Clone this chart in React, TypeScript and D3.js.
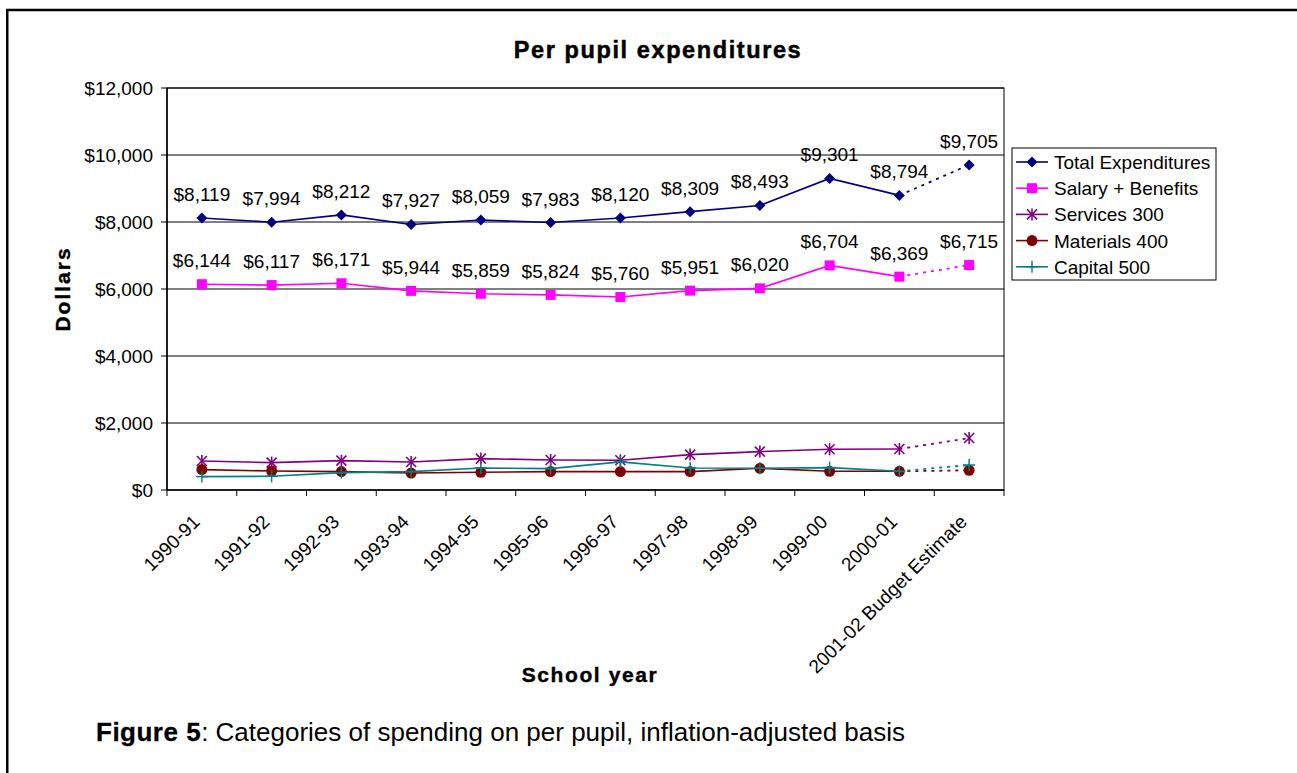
import React from "react";
import * as d3 from "d3";

const categories = ["1990-91","1991-92","1992-93","1993-94","1994-95","1995-96","1996-97","1997-98","1998-99","1999-00","2000-01","2001-02 Budget Estimate"];
const totalExpenditures = [8119,7994,8212,7927,8059,7983,8120,8309,8493,9301,8794,9705];
const salaryBenefits = [6144,6117,6171,5944,5859,5824,5760,5951,6020,6704,6369,6715];
const services300 = [866,818,877,836,937,896,887,1057,1146,1215,1224,1552];
const materials400 = [609,567,549,507,528,549,549,549,648,558,558,588];
const capital500 = [400,409,519,549,657,639,840,657,648,668,558,746];
const yTicks = [0,2000,4000,6000,8000,10000,12000];

const FONT = "'Liberation Sans', Arial, sans-serif";

type Series = { name: string; values: number[]; color: string; marker: string; labels: boolean };
const series: Series[] = [
  { name: "Total Expenditures", values: totalExpenditures, color: "#000080", marker: "diamond", labels: true },
  { name: "Salary + Benefits", values: salaryBenefits, color: "#FF00FF", marker: "square", labels: true },
  { name: "Services 300", values: services300, color: "#800080", marker: "star", labels: false },
  { name: "Materials 400", values: materials400, color: "#800000", marker: "circle", labels: false },
  { name: "Capital 500", values: capital500, color: "#008080", marker: "plus", labels: false },
];

function Marker({ type, x, y, color }: { type: string; x: number; y: number; color: string }) {
  if (type === "diamond") {
    const s = 5.5;
    return <path d={`M${x},${y - s}L${x + s},${y}L${x},${y + s}L${x - s},${y}Z`} fill={color} />;
  }
  if (type === "square") {
    return <rect x={x - 5} y={y - 5} width={10} height={10} fill={color} />;
  }
  if (type === "circle") {
    return <circle cx={x} cy={y} r={5.5} fill={color} />;
  }
  if (type === "star") {
    const s = 5;
    return (
      <g stroke={color} strokeWidth={1.6}>
        <line x1={x - s} y1={y - s} x2={x + s} y2={y + s} />
        <line x1={x - s} y1={y + s} x2={x + s} y2={y - s} />
        <line x1={x} y1={y - s - 1} x2={x} y2={y + s + 1} />
      </g>
    );
  }
  const s = 6;
  return (
    <g stroke={color} strokeWidth={1.5}>
      <line x1={x - s} y1={y} x2={x + s} y2={y} />
      <line x1={x} y1={y - s} x2={x} y2={y + s} />
    </g>
  );
}

export default function App() {
  const left = 167, right = 1004, top = 88, bottom = 490;
  const x = d3.scaleBand<string>().domain(categories).range([left, right]).padding(0);
  const y = d3.scaleLinear().domain([0, 12000]).range([bottom, top]);
  const cx = (c: string) => (x(c) as number) + x.bandwidth() / 2;
  const fmt = d3.format("$,.0f");
  const line = d3.line<[number, number]>().x(d => d[0]).y(d => d[1]);
  const n = categories.length;

  return (
    <svg width={1297} height={773} style={{ position: "absolute", left: 0, top: 0, background: "#fff" }} fontFamily={FONT}>
      <rect x={0} y={0} width={1297} height={773} fill="#fff" />
      <rect x={7.25} y={10} width={1400} height={900} fill="none" stroke="#000" strokeWidth={2.5} />

      <text x={658} y={58} textAnchor="middle" fontSize={23.5} fontWeight="bold" letterSpacing={1.6} stroke="#000" strokeWidth={0.5}>Per pupil expenditures</text>

      {yTicks.filter(t => t > 0).map(t => (
        <line key={t} x1={left} x2={right} y1={y(t)} y2={y(t)} stroke="#000" strokeWidth={1} />
      ))}
      <rect x={left} y={top} width={right - left} height={bottom - top} fill="none" stroke="#000" strokeWidth={1} />
      <line x1={left} x2={left} y1={top} y2={bottom} stroke="#000" strokeWidth={1.5} />
      <line x1={left} x2={right} y1={bottom} y2={bottom} stroke="#000" strokeWidth={1.5} />

      {yTicks.map(t => (
        <g key={t}>
          <line x1={left - 6} x2={left} y1={y(t)} y2={y(t)} stroke="#000" />
          <text x={left - 14} y={y(t) + 7} textAnchor="end" fontSize={19}>{fmt(t)}</text>
        </g>
      ))}

      {d3.range(n + 1).map(i => {
        const xx = i < n ? (x(categories[i]) as number) : right;
        return <line key={i} x1={xx} x2={xx} y1={bottom} y2={bottom + 6} stroke="#000" />;
      })}
      {categories.map(c => (
        <text key={c} transform={`translate(${cx(c) - 1},${bottom + 33}) rotate(-45)`} textAnchor="end" fontSize={19}>{c}</text>
      ))}

      <text transform={`translate(70,289) rotate(-90)`} textAnchor="middle" fontSize={21} fontWeight="bold" letterSpacing={2} stroke="#000" strokeWidth={0.4}>Dollars</text>
      <text x={590} y={682} textAnchor="middle" fontSize={21} fontWeight="bold" letterSpacing={1.6} stroke="#000" strokeWidth={0.4}>School year</text>

      {series.map(s => {
        const pts: [number, number][] = s.values.map((v, i) => [cx(categories[i]), y(v)]);
        return (
          <g key={s.name}>
            <path d={line(pts.slice(0, n - 1)) as string} fill="none" stroke={s.color} strokeWidth={1.6} />
            <path d={line(pts.slice(n - 2)) as string} fill="none" stroke={s.color} strokeWidth={1.8} strokeDasharray="3,5" />
            {pts.map((p, i) => <Marker key={i} type={s.marker} x={p[0]} y={p[1]} color={s.color} />)}
            {s.labels && pts.map((p, i) => (
              <text key={"l" + i} x={p[0]} y={p[1] - 17} textAnchor="middle" fontSize={19}>{fmt(s.values[i])}</text>
            ))}
          </g>
        );
      })}

      <rect x={1012} y={148} width={204} height={132} fill="#fff" stroke="#000" strokeWidth={1} />
      {series.map((s, i) => {
        const ly = 162 + i * 26.2;
        return (
          <g key={s.name}>
            <line x1={1016} x2={1048} y1={ly} y2={ly} stroke={s.color} strokeWidth={1.6} />
            <Marker type={s.marker} x={1032} y={ly} color={s.color} />
            <text x={1054} y={ly + 7} fontSize={19}>{s.name}</text>
          </g>
        );
      })}

      <text x={96} y={741} fontSize={26}>
        <tspan fontWeight="bold" letterSpacing={0.5} stroke="#000" strokeWidth={0.3}>Figure 5</tspan>
        <tspan>: Categories of spending on per pupil, inflation-adjusted basis</tspan>
      </text>
    </svg>
  );
}
